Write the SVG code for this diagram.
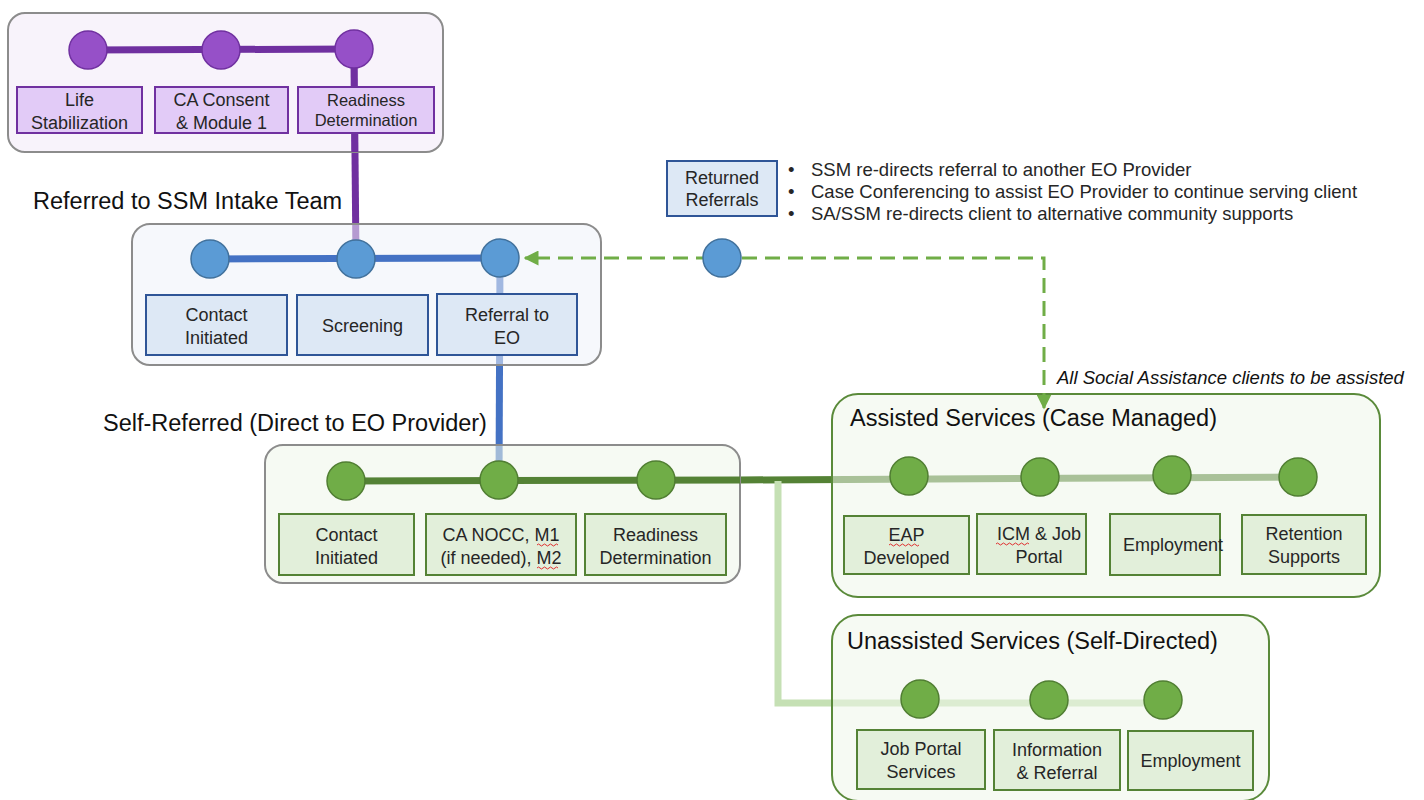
<svg xmlns="http://www.w3.org/2000/svg" width="1424" height="800" viewBox="0 0 1424 800">
  <defs>
    <style>
      text { font-family: "Liberation Sans", Arial, sans-serif; fill: #262626; }
      .lbl { font-size: 18px; text-anchor: middle; }
      .lblSmall { font-size: 16.5px; }
      .head { font-size: 23.5px; fill: #111; }
      .note { font-size: 18.5px; fill: #111; }
      .panel { stroke: #8c8c8c; stroke-width: 2; }
      .pPurple { fill: #f2eaf7; fill-opacity: 0.55; }
      .pBlue { fill: #eef3fa; fill-opacity: 0.55; }
      .pGreen { fill: #eff6ea; fill-opacity: 0.55; }
      .pGreenEdge { stroke: #5a8a3a; stroke-width: 2; }
      .bPurple { fill: #e2cbf7; stroke: #7030a0; stroke-width: 2; }
      .bBlue { fill: #dde8f5; stroke: #2f5597; stroke-width: 2; }
      .bGreen { fill: #e2efda; stroke: #548235; stroke-width: 2; }
      .cPurple { fill: #9650c8; stroke: #7030a0; stroke-width: 1.5; }
      .cBlue { fill: #5b9bd5; stroke: #41719c; stroke-width: 1.5; }
      .cGreen { fill: #70ad47; stroke: #507e32; stroke-width: 1.5; }
      .track { fill: none; stroke-width: 7; }
      .squig { fill: none; stroke: #e03030; stroke-width: 1; }
    </style>
    <marker id="arrowG" viewBox="0 0 10 10" refX="9" refY="5" markerWidth="5" markerHeight="5" orient="auto-start-reverse">
      <path d="M0,0 L10,5 L0,10 z" fill="#70ad47"/>
    </marker>
  </defs>

  <!-- connectors running beneath the panels -->
  <g id="connectors">
    <line class="track" x1="354" y1="50" x2="356" y2="259" stroke="#7030a0"/>
    <line class="track" x1="500" y1="258" x2="499" y2="480" stroke="#4472c4"/>
    <line class="track" x1="740" y1="480" x2="1298" y2="477" stroke="#548235"/>
    <polyline class="track" points="778,481 778,703 1164,703" stroke="#c5e0b4"/>
  </g>

  <!-- panels -->
  <g id="panel-life">
    <rect class="panel pPurple" x="8" y="13" width="435" height="139" rx="17"/>
  </g>
  <g id="panel-ssm">
    <rect class="panel pBlue" x="132" y="224" width="469" height="141" rx="18"/>
  </g>
  <g id="panel-self">
    <rect class="panel pGreen" x="265" y="445" width="475" height="138" rx="18"/>
  </g>
  <g id="panel-assisted">
    <rect class="pGreen pGreenEdge" x="832" y="394" width="548" height="203" rx="26"/>
    <text class="head" x="850" y="426">Assisted Services (Case Managed)</text>
  </g>
  <g id="panel-unassisted">
    <rect class="pGreen pGreenEdge" x="832" y="615" width="437" height="186" rx="26"/>
    <text class="head" x="847" y="649">Unassisted Services (Self-Directed)</text>
  </g>

  <!-- tracks drawn over their own panels -->
  <g id="tracks">
    <line class="track" x1="88" y1="50" x2="354" y2="49" stroke="#7030a0"/>
    <line class="track" x1="354" y1="50" x2="354.8" y2="152" stroke="#7030a0"/>
    <line class="track" x1="210" y1="259" x2="500" y2="258" stroke="#4472c4"/>
    <line class="track" x1="346" y1="481" x2="740" y2="480" stroke="#548235"/>
  </g>

  <!-- returned-referral loop -->
  <g id="returns">
    <polyline points="1044,408 1044,258 525,258" fill="none" stroke="#70ad47" stroke-width="3" stroke-dasharray="15,8" marker-start="url(#arrowG)" marker-end="url(#arrowG)"/>
  </g>

  <!-- section headings -->
  <text class="head" x="33" y="209">Referred to SSM Intake Team</text>
  <text class="head" x="103" y="431">Self-Referred (Direct to EO Provider)</text>
  <text class="note" x="1057" y="384" font-style="italic">All Social Assistance clients to be assisted</text>

  <!-- Life stabilization stages -->
  <g id="life-stabilization">
    <circle class="cPurple" cx="88" cy="50" r="19"/>
    <rect class="bPurple" x="17" y="87" width="125" height="46"/>
    <text class="lbl" x="79.5" y="106">Life</text>
    <text class="lbl" x="79.5" y="129">Stabilization</text>
  </g>
  <g id="ca-consent">
    <circle class="cPurple" cx="221" cy="50" r="19"/>
    <rect class="bPurple" x="155" y="87" width="133" height="46"/>
    <text class="lbl" x="221.5" y="106">CA Consent</text>
    <text class="lbl" x="221.5" y="129">&amp; Module 1</text>
  </g>
  <g id="readiness-1">
    <circle class="cPurple" cx="354" cy="49" r="19"/>
    <rect class="bPurple" x="298" y="87" width="136" height="46"/>
    <text class="lbl lblSmall" x="366" y="106">Readiness</text>
    <text class="lbl lblSmall" x="366" y="126">Determination</text>
  </g>

  <!-- SSM intake stages -->
  <g id="ssm-contact">
    <circle class="cBlue" cx="210" cy="259" r="19"/>
    <rect class="bBlue" x="146" y="295" width="141" height="60"/>
    <text class="lbl" x="216.5" y="321">Contact</text>
    <text class="lbl" x="216.5" y="344">Initiated</text>
  </g>
  <g id="ssm-screening">
    <circle class="cBlue" cx="356" cy="259" r="19"/>
    <rect class="bBlue" x="297" y="295" width="131" height="60"/>
    <text class="lbl" x="362.5" y="332">Screening</text>
  </g>
  <g id="ssm-referral">
    <circle class="cBlue" cx="500" cy="258" r="19"/>
    <rect class="bBlue" x="437" y="294" width="140" height="61"/>
    <text class="lbl" x="507" y="321">Referral to</text>
    <text class="lbl" x="507" y="344">EO</text>
  </g>

  <!-- returned referrals -->
  <g id="returned-referrals">
    <rect class="bBlue" x="667" y="161" width="110" height="55"/>
    <text class="lbl" x="722" y="184">Returned</text>
    <text class="lbl" x="722" y="206">Referrals</text>
    <circle class="cBlue" cx="722" cy="258" r="19"/>
    <g class="note">
      <text x="788" y="176">•</text>
      <text x="811" y="176">SSM re-directs referral to another EO Provider</text>
      <text x="788" y="198">•</text>
      <text x="811" y="198">Case Conferencing to assist EO Provider to continue serving client</text>
      <text x="788" y="220">•</text>
      <text x="811" y="220">SA/SSM re-directs client to alternative community supports</text>
    </g>
  </g>

  <!-- EO provider stages -->
  <g id="eo-contact">
    <circle class="cGreen" cx="346" cy="481" r="19"/>
    <rect class="bGreen" x="279" y="514" width="135" height="61"/>
    <text class="lbl" x="346.5" y="541">Contact</text>
    <text class="lbl" x="346.5" y="564">Initiated</text>
  </g>
  <g id="eo-nocc">
    <circle class="cGreen" cx="499" cy="480" r="19"/>
    <rect class="bGreen" x="426" y="514" width="150" height="61"/>
    <text class="lbl" x="501" y="541">CA NOCC, M1</text>
    <text class="lbl" x="501" y="564">(if needed), M2</text>
    <path class="squig" d="M537,545 q1.5,-2 3,0 t3,0 t3,0 t3,0 t3,0 t3,0 t3,0 M537,568 q1.5,-2 3,0 t3,0 t3,0 t3,0 t3,0 t3,0 t3,0"/>
  </g>
  <g id="eo-readiness">
    <circle class="cGreen" cx="656" cy="480" r="19"/>
    <rect class="bGreen" x="585" y="514" width="141" height="61"/>
    <text class="lbl" x="655.5" y="541">Readiness</text>
    <text class="lbl" x="655.5" y="564">Determination</text>
  </g>

  <!-- assisted services stages -->
  <g id="as-eap">
    <circle class="cGreen" cx="909" cy="476" r="19"/>
    <rect class="bGreen" x="844" y="516" width="125" height="58"/>
    <text class="lbl" x="906.5" y="541">EAP</text>
    <text class="lbl" x="906.5" y="564">Developed</text>
    <path class="squig" d="M889,545 q1.5,-2 3,0 t3,0 t3,0 t3,0 t3,0 t3,0 t3,0 t3,0 t3,0 t3,0"/>
  </g>
  <g id="as-icm">
    <circle class="cGreen" cx="1040" cy="477" r="19"/>
    <rect class="bGreen" x="977" y="514" width="109" height="60"/>
    <text class="lbl" x="1039" y="540">ICM &amp; Job</text>
    <text class="lbl" x="1039" y="563">Portal</text>
    <path class="squig" d="M996,544 q1.5,-2 3,0 t3,0 t3,0 t3,0 t3,0 t3,0 t3,0 t3,0 t3,0 t3,0 t3,0"/>
  </g>
  <g id="as-employment">
    <circle class="cGreen" cx="1172" cy="475" r="19"/>
    <rect class="bGreen" x="1110" y="514" width="110" height="61"/>
    <text class="lbl" x="1173" y="551">Employment</text>
  </g>
  <g id="as-retention">
    <circle class="cGreen" cx="1298" cy="477" r="19"/>
    <rect class="bGreen" x="1242" y="515" width="124" height="59"/>
    <text class="lbl" x="1304" y="540">Retention</text>
    <text class="lbl" x="1304" y="563">Supports</text>
  </g>

  <!-- unassisted services stages -->
  <g id="us-jobportal">
    <circle class="cGreen" cx="920" cy="699" r="19"/>
    <rect class="bGreen" x="857" y="730" width="128" height="59"/>
    <text class="lbl" x="921" y="755">Job Portal</text>
    <text class="lbl" x="921" y="778">Services</text>
  </g>
  <g id="us-info">
    <circle class="cGreen" cx="1049" cy="700" r="19"/>
    <rect class="bGreen" x="994" y="730" width="126" height="60"/>
    <text class="lbl" x="1057" y="756">Information</text>
    <text class="lbl" x="1057" y="779">&amp; Referral</text>
  </g>
  <g id="us-employment">
    <circle class="cGreen" cx="1163" cy="700" r="19"/>
    <rect class="bGreen" x="1128" y="731" width="125" height="59"/>
    <text class="lbl" x="1190.5" y="767">Employment</text>
  </g>
</svg>
